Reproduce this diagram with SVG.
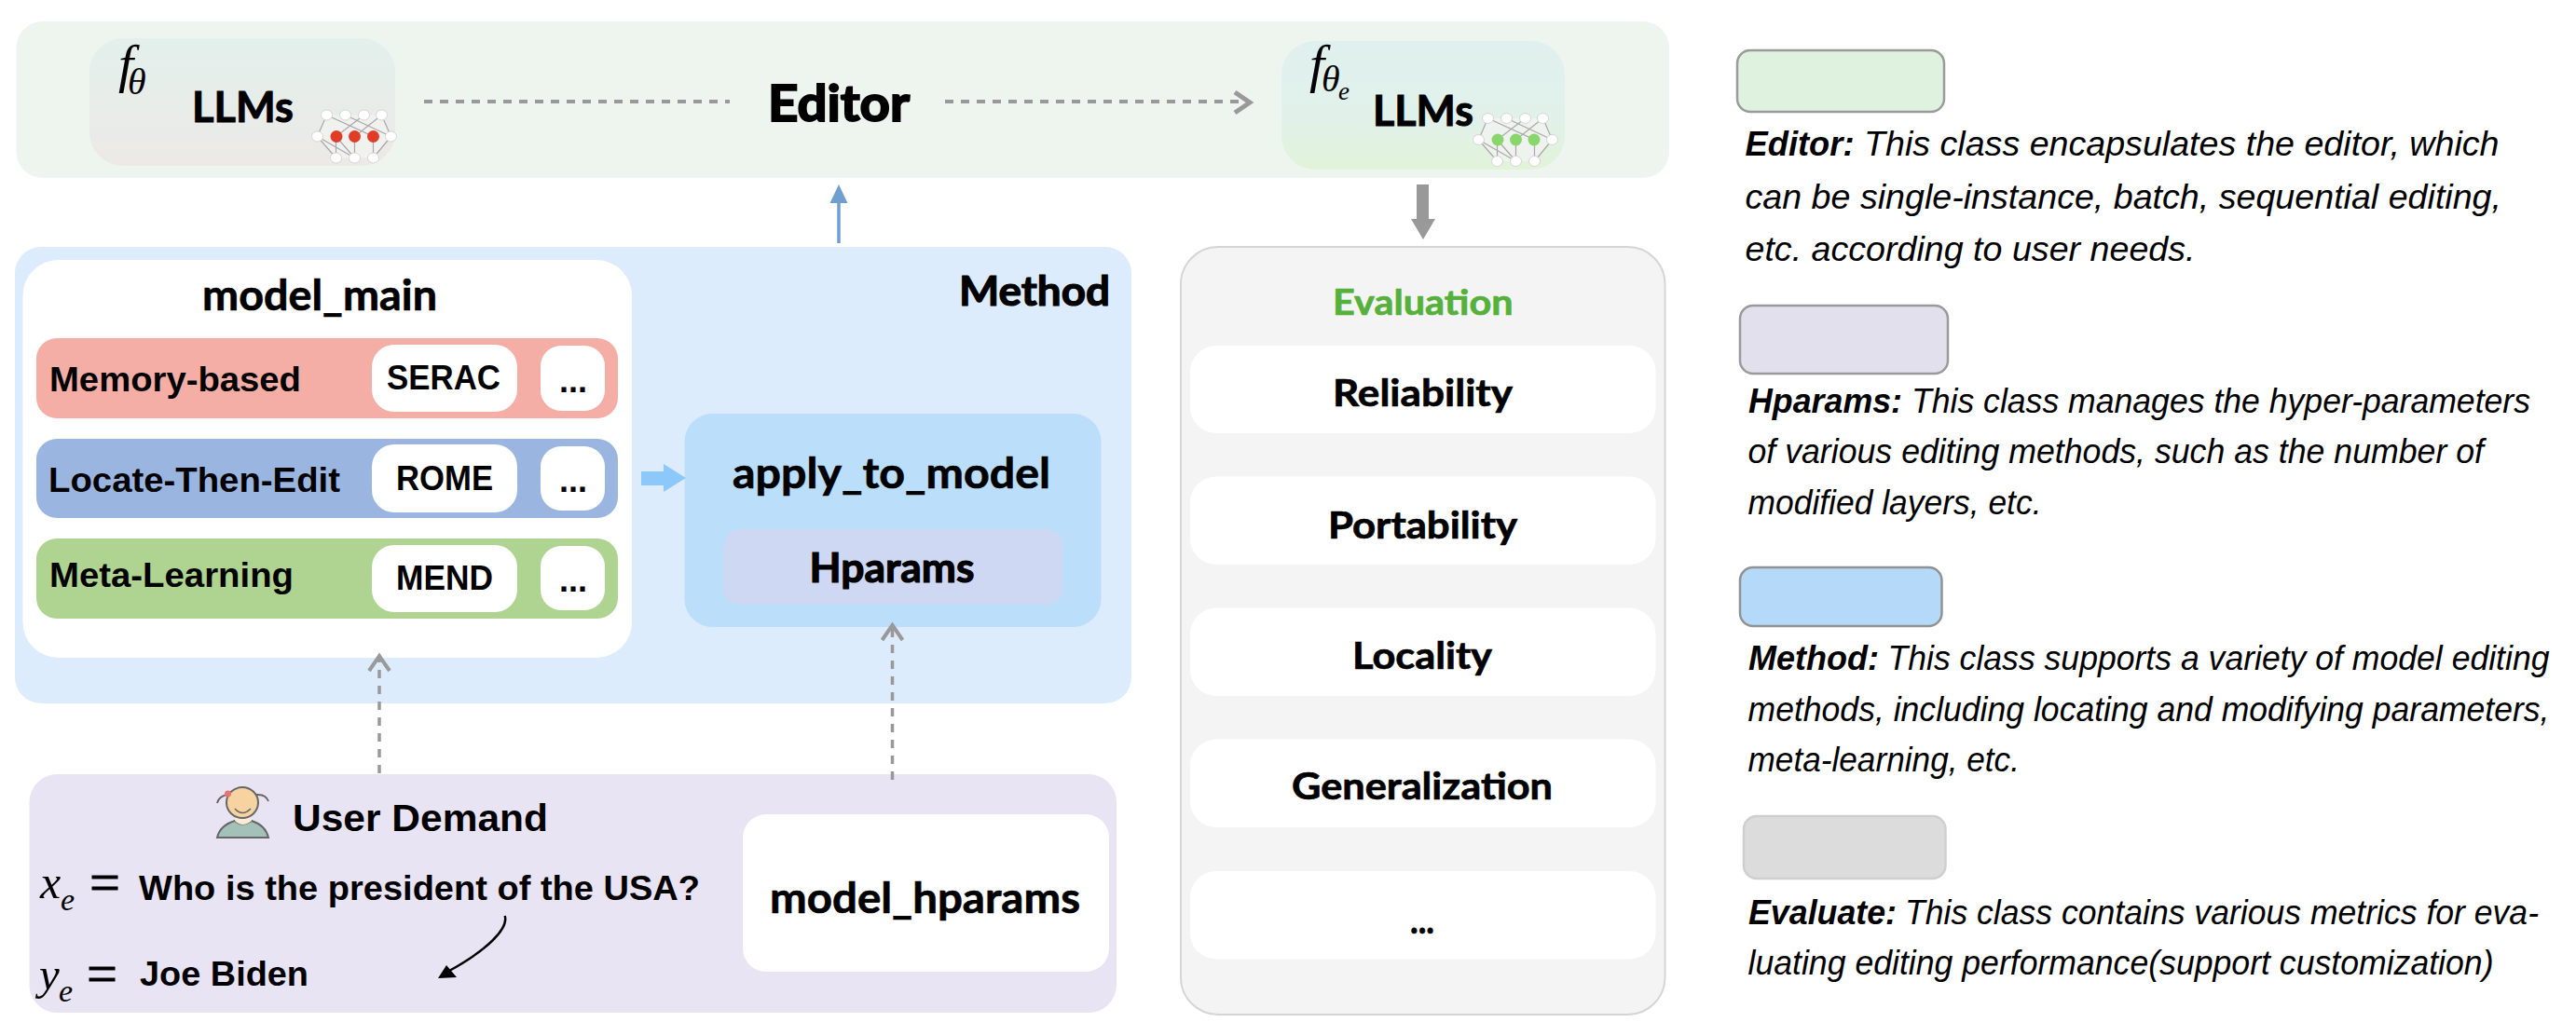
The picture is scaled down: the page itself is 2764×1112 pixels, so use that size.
<svg xmlns="http://www.w3.org/2000/svg" xmlns:xlink="http://www.w3.org/1999/xlink" width="2764" height="1112" viewBox="0 0 2764 1112">
<style>
text{fill:#000}
.c{font-family:"Lato","Open Sans",sans-serif;font-weight:700;stroke:#000;stroke-width:.7px}
.a{font-family:"Liberation Sans",Arial,sans-serif;font-weight:700}
.m{font-family:"Liberation Serif","Times New Roman",serif;font-style:italic}
.e{font-family:"Liberation Serif","Times New Roman",serif;stroke:#000;stroke-width:.8px}
.d{font-family:"Liberation Sans",Arial,sans-serif;font-style:italic;font-size:37px}
.d .b{font-weight:700}
.w{fill:#fff}
.dash{fill:none;stroke:#999;stroke-width:4;stroke-dasharray:9 8}
.head{fill:none;stroke:#999;stroke-width:5}
.leg{stroke-width:2.5}
.nn{fill:#fff;stroke:#d4d4d4;stroke-width:1}
.nl{fill:none;stroke:#a8a8a8;stroke-width:1.2}
.nf{fill:#f3f3f3;fill-opacity:.75}
.ic{stroke:#666;stroke-width:2}
</style>
<defs>
<linearGradient id="g1" x1="0" y1="0" x2="0" y2="1"><stop offset="0" stop-color="#e3f0ec"/><stop offset="1" stop-color="#ece9e6"/></linearGradient>
<linearGradient id="g2" x1="0" y1="0" x2="0" y2="1"><stop offset="0" stop-color="#e0f0ee"/><stop offset=".6" stop-color="#e1f1ea"/><stop offset="1" stop-color="#e1f4d9"/></linearGradient>
<g id="net">
<path class="nf" d="M-30-23H29L39 0 20 23H-20L-40 0Z"/>
<path class="nl" d="M-40 0-30-23M-40 0-20 23M39 0 29-23M39 0 20 23M-30-23 20 0 20 23M-10-23 39 0M10-23-20 0 0 23M29-23 0 0V23M-40 0 0 23M-20 0V23"/>
<ellipse class="nn" cx="-30" cy="-23" rx="6" ry="5.5"/><ellipse class="nn" cx="-10" cy="-23" rx="6" ry="5.5"/><ellipse class="nn" cx="10" cy="-23" rx="6" ry="5.5"/><ellipse class="nn" cx="29" cy="-23" rx="6" ry="5.5"/>
<ellipse class="nn" cx="-40" cy="0" rx="6" ry="5.5"/><ellipse class="nn" cx="39" cy="0" rx="6" ry="5.5"/>
<ellipse class="nn" cx="-20" cy="23" rx="6" ry="5.5"/><ellipse class="nn" cx="0" cy="23" rx="6" ry="5.5"/><ellipse class="nn" cx="20" cy="23" rx="6" ry="5.5"/>
</g>
</defs>
<rect width="2764" height="1112" fill="#fff"/>

<g id="editor">
<rect x="17.5" y="23" width="1773.5" height="168" rx="28" fill="#eef5ef"/>
<text class="c" x="824" y="130" font-size="54" textLength="152" lengthAdjust="spacingAndGlyphs" style="stroke-width:2px">Editor</text>
</g>

<g id="llm-source">
<rect x="96" y="41" width="328" height="137" rx="36" fill="url(#g1)"/>
<text class="m" x="127" y="88" font-size="58">f</text>
<text class="m" x="137" y="101" font-size="40">θ</text>
<text class="c" x="206" y="131" font-size="46" textLength="109" lengthAdjust="spacingAndGlyphs" style="stroke-width:1px">LLMs</text>
<use xlink:href="#net" href="#net" x="380.5" y="146.5"/>
<ellipse cx="361" cy="146.5" rx="6.5" ry="6.5" fill="#e03c26"/><ellipse cx="380.5" cy="146.5" rx="6.5" ry="6.5" fill="#e03c26"/><ellipse cx="400.5" cy="146.5" rx="6.5" ry="6.5" fill="#e03c26"/>
</g>

<g id="llm-edited">
<rect x="1375" y="44" width="304" height="138" rx="36" fill="url(#g2)"/>
<text class="m" x="1405" y="88" font-size="58">f</text>
<text class="m" x="1418" y="98" font-size="40">θ</text>
<text class="m" x="1436" y="107" font-size="27">e</text>
<text class="c" x="1473" y="135" font-size="46" textLength="108" lengthAdjust="spacingAndGlyphs" style="stroke-width:1px">LLMs</text>
<use xlink:href="#net" href="#net" x="1626.5" y="150"/>
<ellipse cx="1607" cy="150" rx="6.5" ry="6.5" fill="#8ad66e"/><ellipse cx="1626.5" cy="150" rx="6.5" ry="6.5" fill="#8ad66e"/><ellipse cx="1646" cy="150" rx="6.5" ry="6.5" fill="#8ad66e"/>
</g>

<g id="method">
<rect x="16" y="265" width="1198" height="490" rx="28" fill="#dcecfd"/>
<text class="c" x="1029" y="328" font-size="44" textLength="162" lengthAdjust="spacingAndGlyphs" style="stroke-width:1.2px">Method</text>
</g>

<g id="model_main">
<rect class="w" x="24.5" y="279" width="653.5" height="427" rx="38"/>
<text class="c" x="217" y="333" font-size="46" textLength="252" lengthAdjust="spacingAndGlyphs">model_main</text>
</g>

<g id="memory-based">
<rect x="39" y="363" width="624" height="86" rx="22" fill="#f4aea6"/>
<text class="a" x="53" y="420" font-size="37" textLength="270" lengthAdjust="spacingAndGlyphs">Memory-based</text>
<rect class="w" x="399" y="370" width="156" height="72" rx="24"/>
<text class="a" x="415" y="418" font-size="36" textLength="122" lengthAdjust="spacingAndGlyphs">SERAC</text>
<rect class="w" x="580" y="371" width="69" height="70" rx="22"/>
<text class="a" x="600" y="421" font-size="36" textLength="30" lengthAdjust="spacingAndGlyphs">...</text>
</g>

<g id="locate-then-edit">
<rect x="39" y="471" width="624" height="85" rx="22" fill="#9ab6e0"/>
<text class="a" x="52" y="528" font-size="37" textLength="313" lengthAdjust="spacingAndGlyphs">Locate-Then-Edit</text>
<rect class="w" x="399" y="477" width="156" height="73" rx="24"/>
<text class="a" x="425" y="526" font-size="36" textLength="104" lengthAdjust="spacingAndGlyphs">ROME</text>
<rect class="w" x="580" y="479" width="69" height="69" rx="22"/>
<text class="a" x="600" y="528" font-size="36" textLength="30" lengthAdjust="spacingAndGlyphs">...</text>
</g>

<g id="meta-learning">
<rect x="39" y="578" width="624" height="86" rx="22" fill="#afd491"/>
<text class="a" x="53" y="630" font-size="37" textLength="262" lengthAdjust="spacingAndGlyphs">Meta-Learning</text>
<rect class="w" x="399" y="585" width="156" height="72" rx="24"/>
<text class="a" x="425" y="633" font-size="36" textLength="104" lengthAdjust="spacingAndGlyphs">MEND</text>
<rect class="w" x="580" y="586" width="69" height="69" rx="22"/>
<text class="a" x="600" y="635" font-size="36" textLength="30" lengthAdjust="spacingAndGlyphs">...</text>
</g>

<g id="apply_to_model">
<rect x="734.5" y="444" width="447" height="229" rx="30" fill="#bbdefb"/>
<text class="c" x="786" y="524" font-size="46" textLength="341" lengthAdjust="spacingAndGlyphs">apply_to_model</text>
</g>

<g id="hparams">
<rect x="776.5" y="568" width="364" height="81" rx="18" fill="#ced8f2"/>
<text class="c" x="868.5" y="625" font-size="44" textLength="177" lengthAdjust="spacingAndGlyphs" style="stroke-width:1.2px">Hparams</text>
</g>

<g id="user-demand">
<rect x="31.5" y="831" width="1166.5" height="256" rx="30" fill="#e8e4f3"/>
<g id="user-icon">
<path class="ic" d="M233 899Q236 886 252 881Q260 888 270 881Q285 886 288 899Z" fill="#a3c1b9"/>
<path d="M252 881Q260 889 270 881L268 875H254Z" fill="#f8ecd6"/>
<path class="ic" d="M245 853Q235 854 233 862M275 853Q285 852 288 860" fill="none"/>
<ellipse class="ic" cx="260" cy="861.5" rx="17" ry="16.5" fill="#f6d3a0"/>
<path d="M252 868Q260 877 269 868" fill="none" stroke="#666" stroke-width="1.6"/>
<circle cx="244.500" cy="852" r="3.5" fill="#e57373"/>
</g>
<text class="a" x="314" y="892" font-size="41" textLength="274" lengthAdjust="spacingAndGlyphs">User Demand</text>
<text class="m" x="43" y="964" font-size="50">x</text>
<text class="m" x="65" y="977" font-size="34">e</text>
<text class="e" x="96" y="968" font-size="62" textLength="33" lengthAdjust="spacingAndGlyphs">=</text>
<text class="a" x="149" y="966" font-size="36" textLength="602" lengthAdjust="spacingAndGlyphs">Who is the president of the USA?</text>
<text class="m" x="42" y="1062" font-size="49">y</text>
<text class="m" x="63" y="1075" font-size="34">e</text>
<text class="e" x="93" y="1066" font-size="62" textLength="33" lengthAdjust="spacingAndGlyphs">=</text>
<text class="a" x="150" y="1058" font-size="36" textLength="181" lengthAdjust="spacingAndGlyphs">Joe Biden</text>
</g>

<g id="model_hparams">
<rect class="w" x="797" y="874" width="393" height="169" rx="25"/>
<text class="c" x="826" y="980" font-size="46" textLength="333" lengthAdjust="spacingAndGlyphs">model_hparams</text>
</g>

<g id="evaluation">
<rect x="1267" y="265" width="519.5" height="824" rx="40" fill="#f4f4f4" stroke="#d5d5d5" stroke-width="2"/>
<text class="c" x="1430" y="338" font-size="38" textLength="193.5" lengthAdjust="spacingAndGlyphs" style="fill:#55b03c;stroke:#55b03c">Evaluation</text>
</g>
<g id="reliability"><rect class="w" x="1277" y="371" width="499.5" height="94" rx="28"/><text class="c" x="1430" y="435.5" font-size="40" textLength="193" lengthAdjust="spacingAndGlyphs">Reliability</text></g>
<g id="portability"><rect class="w" x="1277" y="511.5" width="499.5" height="94.5" rx="28"/><text class="c" x="1425" y="577.5" font-size="40" textLength="203" lengthAdjust="spacingAndGlyphs">Portability</text></g>
<g id="locality"><rect class="w" x="1277" y="652.5" width="499.5" height="94.5" rx="28"/><text class="c" x="1451" y="718" font-size="40" textLength="150" lengthAdjust="spacingAndGlyphs">Locality</text></g>
<g id="generalization"><rect class="w" x="1277" y="793.5" width="499.5" height="94.5" rx="28"/><text class="c" x="1386" y="858" font-size="40" textLength="280" lengthAdjust="spacingAndGlyphs">Generalization</text></g>
<g id="more"><rect class="w" x="1277" y="935" width="499.5" height="94.5" rx="28"/><text class="c" x="1513" y="1002" font-size="40" textLength="26" lengthAdjust="spacingAndGlyphs">...</text></g>

<g id="connectors">
<path class="dash" d="M455 109H783"/>
<path class="dash" d="M1014 109H1338"/>
<path class="head" d="M1325 99 1341 110 1325 121"/>
<path d="M900 261V215" fill="none" stroke="#6f9fce" stroke-width="3.5"/>
<path d="M900 198 909.5 218H890.5Z" fill="#6f9fce"/>
<path d="M1520 198H1533V235H1540L1527 257 1514 235H1520Z" fill="#999"/>
<path d="M688 506H712V498L736 513 712 528V521H688Z" fill="#8cc8fa"/>
<path class="dash" d="M407 830V706" style="stroke-width:3.5"/>
<path class="head" d="M396 720 407 704 418 720" style="stroke-width:4"/>
<path class="dash" d="M957.5 837V673" style="stroke-width:3.5"/>
<path class="head" d="M946.5 687 957.5 671 968.5 687" style="stroke-width:4"/>
<path d="M541.7 983C546 997 522 1020 482 1042" fill="none" stroke="#000" stroke-width="2.5"/>
<path d="M470 1050 479 1036 490 1049Z" fill="#000"/>
</g>

<g id="legend-editor">
<rect class="leg" x="1864" y="54" width="222" height="66" rx="14" fill="#dff1df" stroke="#9a9a9a"/>
<text class="d" y="166.7"><tspan class="b" x="1872.5" textLength="117" lengthAdjust="spacingAndGlyphs">Editor:</tspan><tspan x="2000" textLength="681.5" lengthAdjust="spacingAndGlyphs">This class encapsulates the editor, which</tspan></text>
<text class="d" x="1872.5" y="223.5" textLength="811.5" lengthAdjust="spacingAndGlyphs">can be single-instance, batch, sequential editing,</text>
<text class="d" x="1872.5" y="279.6" textLength="483" lengthAdjust="spacingAndGlyphs">etc. according to user needs.</text>
</g>
<g id="legend-hparams">
<rect class="leg" x="1867" y="328" width="223" height="73" rx="14" fill="#e3e0ee" stroke="#9a9a9a"/>
<text class="d" y="443"><tspan class="b" x="1876" textLength="165" lengthAdjust="spacingAndGlyphs">Hparams:</tspan><tspan x="2051" textLength="664" lengthAdjust="spacingAndGlyphs">This class manages the hyper-parameters</tspan></text>
<text class="d" x="1875.5" y="497" textLength="789.5" lengthAdjust="spacingAndGlyphs">of various editing methods, such as the number of</text>
<text class="d" x="1875.5" y="552" textLength="315" lengthAdjust="spacingAndGlyphs">modified layers, etc.</text>
</g>
<g id="legend-method">
<rect class="leg" x="1867" y="609" width="216.5" height="63" rx="14" fill="#b5daf9" stroke="#929292"/>
<text class="d" y="718.6"><tspan class="b" x="1876" textLength="140" lengthAdjust="spacingAndGlyphs">Method:</tspan><tspan x="2025.5" textLength="710" lengthAdjust="spacingAndGlyphs">This class supports a variety of model editing</tspan></text>
<text class="d" x="1875.5" y="774" textLength="860" lengthAdjust="spacingAndGlyphs">methods, including locating and modifying parameters,</text>
<text class="d" x="1875.5" y="827.5" textLength="291.5" lengthAdjust="spacingAndGlyphs">meta-learning, etc.</text>
</g>
<g id="legend-evaluate">
<rect class="leg" x="1871" y="876" width="216.5" height="67" rx="14" fill="#dcdcdc" stroke="#cfcfcf"/>
<text class="d" y="992.4"><tspan class="b" x="1876" textLength="159" lengthAdjust="spacingAndGlyphs">Evaluate:</tspan><tspan x="2044" textLength="680" lengthAdjust="spacingAndGlyphs">This class contains various metrics for eva-</tspan></text>
<text class="d" x="1875.5" y="1046" textLength="800" lengthAdjust="spacingAndGlyphs">luating editing performance(support customization)</text>
</g>
</svg>
